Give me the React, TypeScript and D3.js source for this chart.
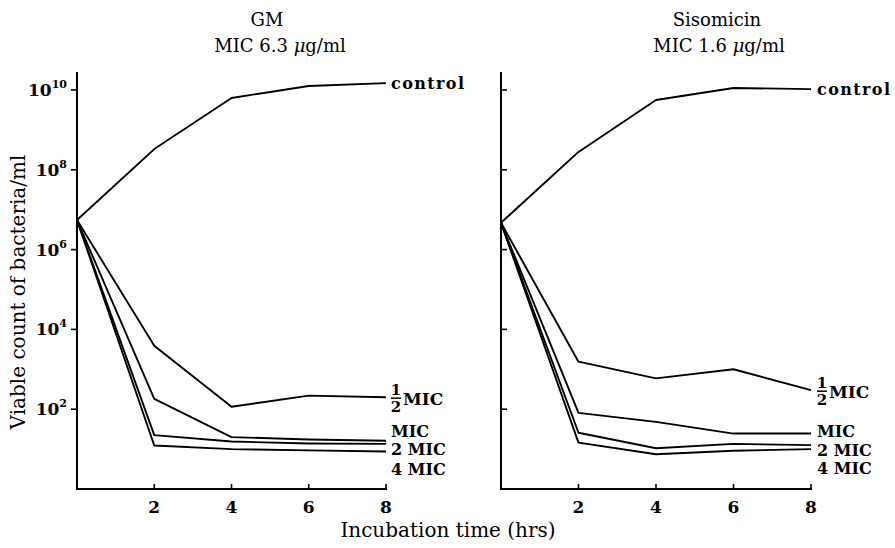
import * as React from "react";
import { line, scaleLinear, scaleLog } from "d3";

const hours = [0, 2, 4, 6, 8];
const xTickValues = [2, 4, 6, 8];
const yTickPowers = [2, 4, 6, 8, 10];

// GM, MIC 6.3 ug/ml
const gmControl = [5.5e6, 3.3e8, 6.3e9, 1.26e10, 1.48e10];
const gmHalfMic = [5.5e6, 3900, 115, 219, 200];
const gmMic = [5.5e6, 182, 20, 17.4, 16.2];
const gm2Mic = [5.5e6, 22.4, 15.5, 13.8, 13.5];
const gm4Mic = [5.5e6, 12.3, 10, 9.3, 8.7];

// Sisomicin, MIC 1.6 ug/ml
const sisoControl = [4.7e6, 2.8e8, 5.6e9, 1.12e10, 1.05e10];
const sisoHalfMic = [4.7e6, 1550, 590, 1000, 300];
const sisoMic = [4.7e6, 81, 48, 24.5, 24.5];
const siso2Mic = [4.7e6, 25.7, 10.5, 13.5, 12.6];
const siso4Mic = [4.7e6, 14.5, 7.4, 9.1, 10];

const FONT = "DejaVu Serif";
const BASE = 489;
const TOP = 72;

interface Series {
  name: string;
  values: number[];
  dy: number;
}

interface PanelProps {
  x0: number;
  x1: number;
  title: string;
  subtitle: string;
  titleX: number;
  subtitleX: number;
  labelGap: number;
  yLabels: boolean;
  series: Series[];
}

const yScale = scaleLog().domain([1, Math.pow(10, 10.45)]).range([BASE, TOP]);

function Panel(props: PanelProps) {
  const { x0, x1, title, subtitle, titleX, subtitleX, labelGap, yLabels, series } = props;
  const x = scaleLinear().domain([0, 8]).range([x0, x1]);
  const path = line<number>()
    .x((d, i) => x(hours[i]))
    .y((d) => yScale(d));

  return (
    <g>
      <text x={titleX} y={26} textAnchor="middle" fontSize={18}>
        {title}
      </text>
      <text x={subtitleX} y={52} textAnchor="middle" fontSize={18}>
        {subtitle.split("\u03bc")[0]}
        <tspan fontStyle="italic">{"\u03bc"}</tspan>
        {subtitle.split("\u03bc")[1]}
      </text>

      {/* axes */}
      <line x1={x0} x2={x0} y1={TOP} y2={BASE + 1} stroke="#000" strokeWidth={2} />
      <line x1={x0} x2={x1 + 1} y1={BASE} y2={BASE} stroke="#000" strokeWidth={2.2} />
      {yTickPowers.map((p) => {
        const ty = yScale(Math.pow(10, p));
        return (
          <g key={`yt-${p}`}>
            <line
              x1={yLabels ? x0 - 6 : x0}
              x2={yLabels ? x0 : x0 + 6}
              y1={ty}
              y2={ty}
              stroke="#000"
              strokeWidth={1.6}
            />
            {yLabels && (
              <text x={x0 - 10} y={ty + 6} textAnchor="end" fontSize={17} fontWeight="bold">
                10
                <tspan fontSize={11} dy={-8}>
                  {p}
                </tspan>
              </text>
            )}
          </g>
        );
      })}
      {xTickValues.map((t) => (
        <g key={`xt-${t}`}>
          <line x1={x(t)} x2={x(t)} y1={BASE} y2={BASE - 5} stroke="#000" strokeWidth={1.6} />
          <text x={x(t)} y={513} textAnchor="middle" fontSize={17} fontWeight="bold">
            {t}
          </text>
        </g>
      ))}

      {series.map((s) => (
        <path
          key={s.name}
          d={path(s.values) || ""}
          fill="none"
          stroke="#000"
          strokeWidth={1.9}
          strokeLinejoin="round"
        />
      ))}

      {series.map((s) => {
        const ly = yScale(s.values[s.values.length - 1]) + s.dy;
        const lx = x1 + labelGap;
        if (s.name === "1/2 MIC") {
          return (
            <g key={`lab-${s.name}`} fontWeight="bold">
              <text x={lx + 5} y={ly - 3} textAnchor="middle" fontSize={15}>
                1
              </text>
              <line x1={lx} x2={lx + 10} y1={ly} y2={ly} stroke="#000" strokeWidth={1.5} />
              <text x={lx + 5} y={ly + 14} textAnchor="middle" fontSize={15}>
                2
              </text>
              <text x={lx + 12} y={ly + 7} fontSize={17}>
                MIC
              </text>
            </g>
          );
        }
        return (
          <text
            key={`lab-${s.name}`}
            x={lx}
            y={ly}
            fontSize={16}
            fontWeight="bold"
            letterSpacing={s.name === "control" ? 1.4 : 0}
          >
            {s.name.replace(" ", "\u00a0")}
          </text>
        );
      })}
    </g>
  );
}

export default function App() {
  return (
    <svg
      width={895}
      height={548}
      fontFamily={FONT}
      style={{ position: "absolute", left: 0, top: 0, background: "#fff" }}
    >
      <Panel
        x0={77}
        x1={386}
        title="GM"
        subtitle={"MIC 6.3 \u03bcg/ml"}
        titleX={267}
        subtitleX={280}
        labelGap={5}
        yLabels={true}
        series={[
          { name: "control", values: gmControl, dy: 6 },
          { name: "1/2 MIC", values: gmHalfMic, dy: 1 },
          { name: "MIC", values: gmMic, dy: -4 },
          { name: "2 MIC", values: gm2Mic, dy: 11 },
          { name: "4 MIC", values: gm4Mic, dy: 23 },
        ]}
      />
      <Panel
        x0={501}
        x1={811}
        title="Sisomicin"
        subtitle={"MIC 1.6 \u03bcg/ml"}
        titleX={717}
        subtitleX={719}
        labelGap={6}
        yLabels={false}
        series={[
          { name: "control", values: sisoControl, dy: 6 },
          { name: "1/2 MIC", values: sisoHalfMic, dy: 1 },
          { name: "MIC", values: sisoMic, dy: 3 },
          { name: "2 MIC", values: siso2Mic, dy: 11 },
          { name: "4 MIC", values: siso4Mic, dy: 25 },
        ]}
      />
      <text
        fontSize={20}
        textAnchor="middle"
        transform="translate(25, 292) rotate(-90)"
      >
        Viable count of bacteria/ml
      </text>
      <text fontSize={20} textAnchor="middle" x={448} y={537}>
        Incubation time (hrs)
      </text>
    </svg>
  );
}
